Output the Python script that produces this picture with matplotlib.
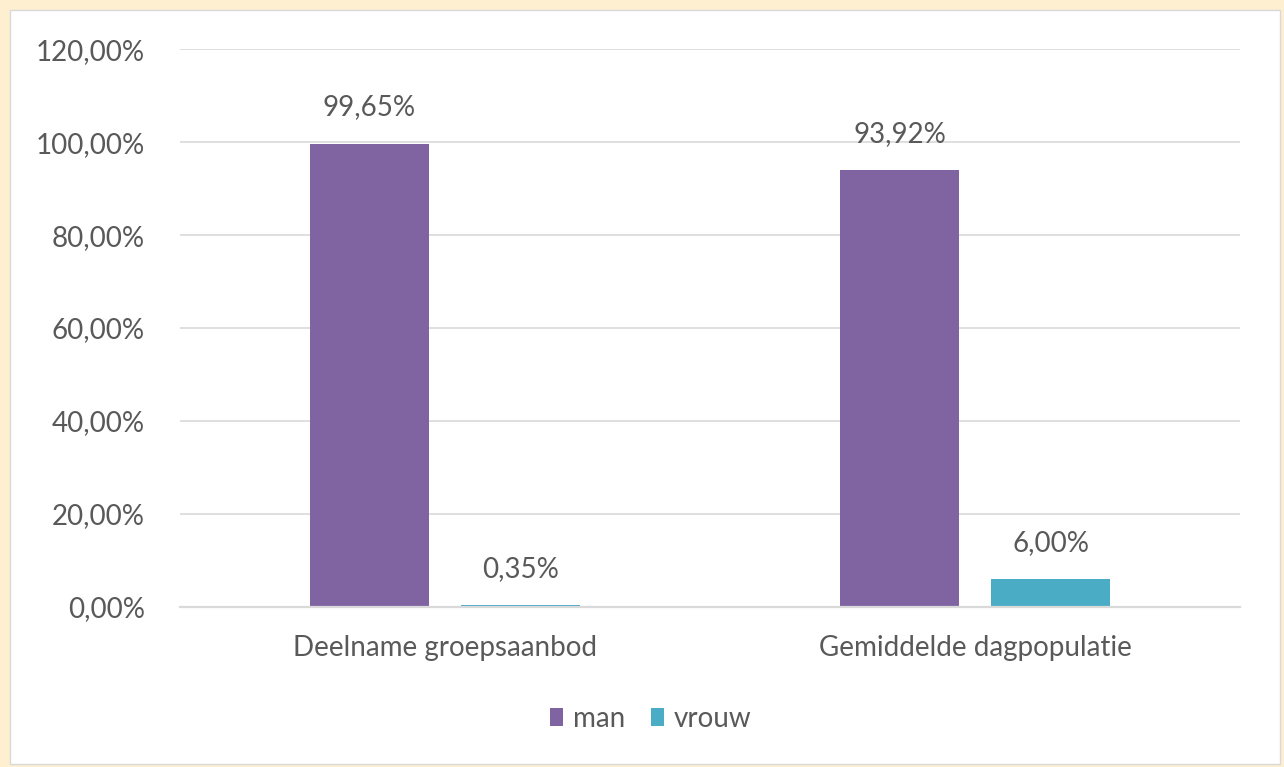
import matplotlib.pyplot as plt
from matplotlib.patches import Rectangle
import numpy as np

plt.rcParams['font.family'] = ['Lato', 'DejaVu Sans']

categories = ["Deelname groepsaanbod", "Gemiddelde dagpopulatie"]
series = ["man", "vrouw"]
man = [99.65, 93.92]
vrouw = [0.35, 6.00]
colors = ["#8064A2", "#4BACC6"]
txt = "#595959"
fs = 20

fig = plt.figure(figsize=(12.84, 7.67), dpi=100)
# cream frame around the chart
fig.patches.append(Rectangle((0, 0), 1, 1, transform=fig.transFigure,
                             facecolor="#FDEFD0", edgecolor="none", zorder=-2))
fig.patches.append(Rectangle((10 / 1284, 3 / 767), 1270 / 1284, 754 / 767,
                             transform=fig.transFigure, facecolor="white",
                             edgecolor="#D9D9D9", linewidth=1, zorder=-1))

ax = fig.add_axes([0.140, 0.2086, 0.826, 0.7274])
ax.set_facecolor("none")

x = np.arange(len(categories))
w = 0.225
off = 0.1425
ax.bar(x - off, man, w, color=colors[0], label=series[0], zorder=2)
ax.bar(x + off, vrouw, w, color=colors[1], label=series[1], zorder=2)

for xi, v in zip(x - off, man):
    ax.text(xi, v + 5, f"{v:.2f}%".replace(".", ","), ha="center", va="bottom",
            fontsize=fs, color=txt)
for xi, v in zip(x + off, vrouw):
    ax.text(xi, v + 5, f"{v:.2f}%".replace(".", ","), ha="center", va="bottom",
            fontsize=fs, color=txt)

ax.set_xlim(-0.5, 1.5)
ax.set_ylim(0, 120)
yt = np.arange(0, 121, 20)
ax.set_yticks(yt)
ax.set_yticklabels([f"{t:.2f}%".replace(".", ",") for t in yt], fontsize=fs, color=txt)
ax.set_xticks(x)
ax.set_xticklabels(categories, fontsize=fs, color=txt)
ax.tick_params(axis="both", length=0)
ax.tick_params(axis="y", pad=25)
ax.tick_params(axis="x", pad=20)
ax.grid(axis="y", color="#D9D9D9", linewidth=1.2, zorder=0)
ax.set_axisbelow(True)
for s in ["top", "right", "left"]:
    ax.spines[s].set_visible(False)
ax.spines["bottom"].set_color("#D9D9D9")
ax.spines["bottom"].set_linewidth(1.6)
ax.spines["bottom"].set_zorder(3)

ax.legend(loc="upper center", bbox_to_anchor=(0.444, -0.132), ncol=2, frameon=False,
          fontsize=fs, labelcolor=txt, handlelength=0.47, handleheight=0.62,
          handletextpad=0.35, columnspacing=0.95)

fig.savefig("out.png", dpi=100)
